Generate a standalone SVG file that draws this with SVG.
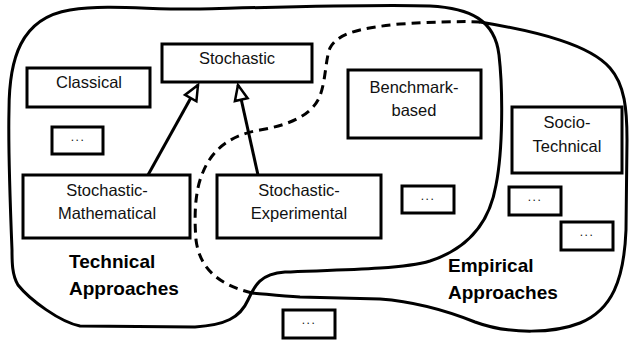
<svg xmlns="http://www.w3.org/2000/svg" width="631" height="346" viewBox="0 0 631 346">
<style>
.blob{fill:none;stroke:#000;stroke-width:3;stroke-linejoin:round;stroke-linecap:round}
.dash{fill:none;stroke:#000;stroke-width:3;stroke-dasharray:9,6}
.box{fill:#fff;stroke:#000;stroke-width:3}
.lbl{font-family:"Liberation Sans",Arial,Helvetica,sans-serif;font-size:16.5px;fill:#111;text-anchor:middle}
.dots{font-family:"Liberation Sans",Arial,sans-serif;font-size:12px;fill:#111;text-anchor:middle;letter-spacing:1.5px}
.big{font-family:"Liberation Sans",Arial,Helvetica,sans-serif;font-size:19px;font-weight:bold;fill:#000}
.edge{stroke:#000;stroke-width:3;fill:none;marker-end:url(#tri)}
</style>
<defs>
<marker id="tri" markerUnits="userSpaceOnUse" markerWidth="20" markerHeight="20" viewBox="-17 -9 20 18" refX="0" refY="0" orient="auto">
<path d="M0,0 L-15,-6.5 L-15,6.5 Z" fill="#fff" stroke="#000" stroke-width="2.5" stroke-linejoin="miter"/>
</marker>
</defs>
<rect width="631" height="346" fill="#fff"/>
<g id="technical-approaches">
<path class="blob" d="M12,250 C10,200 8,150 9,110 C9,60 20,18 70,10 C110,4 150,10 200,9 C280,7 380,4 430,6 C470,8 495,20 499,55 C503,90 503,150 496,185 C490,220 470,248 430,261 C400,270 330,270 285,272 C260,274 255,285 248,300 C240,318 225,325 195,327 L80,326 C60,322 30,300 18,285 C12,275 12,262 12,250 Z"/>
<text class="big" x="69" y="268">Technical</text>
<text class="big" x="69" y="295">Approaches</text>
</g>
<g id="empirical-approaches">
<path class="blob" d="M480,22 C540,32 590,45 610,68 C625,85 627,110 627,140 L626,230 C624,280 612,310 580,323 C555,333 510,335 475,322 C450,312 420,302 380,299 L300,297 C280,296 265,294 252,293"/>
<path class="dash" d="M252,293 C220,285 200,270 196,240 C194,215 195,190 203,172 C212,150 230,135 260,130 C290,125 310,115 318,100 C326,85 325,60 330,48 C338,33 360,28 400,24 C430,22 460,21 480,22"/>
<text class="big" x="448" y="272">Empirical</text>
<text class="big" x="448" y="299">Approaches</text>
</g>
<g id="connectors">
<line class="edge" x1="148" y1="175" x2="198" y2="85"/>
<line class="edge" x1="258" y1="175" x2="238" y2="85"/>
</g>
<g id="stochastic">
<rect class="box" x="162" y="44" width="150" height="38"/>
<text class="lbl" x="237" y="64">Stochastic</text>
</g>
<g id="classical">
<rect class="box" x="27" y="68" width="123" height="39"/>
<text class="lbl" x="89" y="88">Classical</text>
</g>
<g id="more-1">
<rect class="box" x="52" y="127" width="51" height="27"/>
<text class="dots" x="78" y="141">...</text>
</g>
<g id="stochastic-mathematical">
<rect class="box" x="23" y="175" width="167" height="63"/>
<text class="lbl" x="107" y="196">Stochastic-</text>
<text class="lbl" x="107" y="219">Mathematical</text>
</g>
<g id="stochastic-experimental">
<rect class="box" x="217" y="175" width="164" height="63"/>
<text class="lbl" x="299" y="196">Stochastic-</text>
<text class="lbl" x="299" y="219">Experimental</text>
</g>
<g id="benchmark-based">
<rect class="box" x="348" y="70" width="133" height="68"/>
<text class="lbl" x="414" y="93">Benchmark-</text>
<text class="lbl" x="414" y="116">based</text>
</g>
<g id="socio-technical">
<rect class="box" x="512" y="107" width="110" height="66"/>
<text class="lbl" x="567" y="128">Socio-</text>
<text class="lbl" x="567" y="152">Technical</text>
</g>
<g id="more-2">
<rect class="box" x="402" y="186" width="52" height="27"/>
<text class="dots" x="428" y="200">...</text>
</g>
<g id="more-3">
<rect class="box" x="509" y="187" width="52" height="28"/>
<text class="dots" x="535" y="201">...</text>
</g>
<g id="more-4">
<rect class="box" x="561" y="222" width="52" height="28"/>
<text class="dots" x="587" y="236">...</text>
</g>
<g id="more-5">
<rect class="box" x="283" y="310" width="52" height="28"/>
<text class="dots" x="309" y="324">...</text>
</g>
</svg>
